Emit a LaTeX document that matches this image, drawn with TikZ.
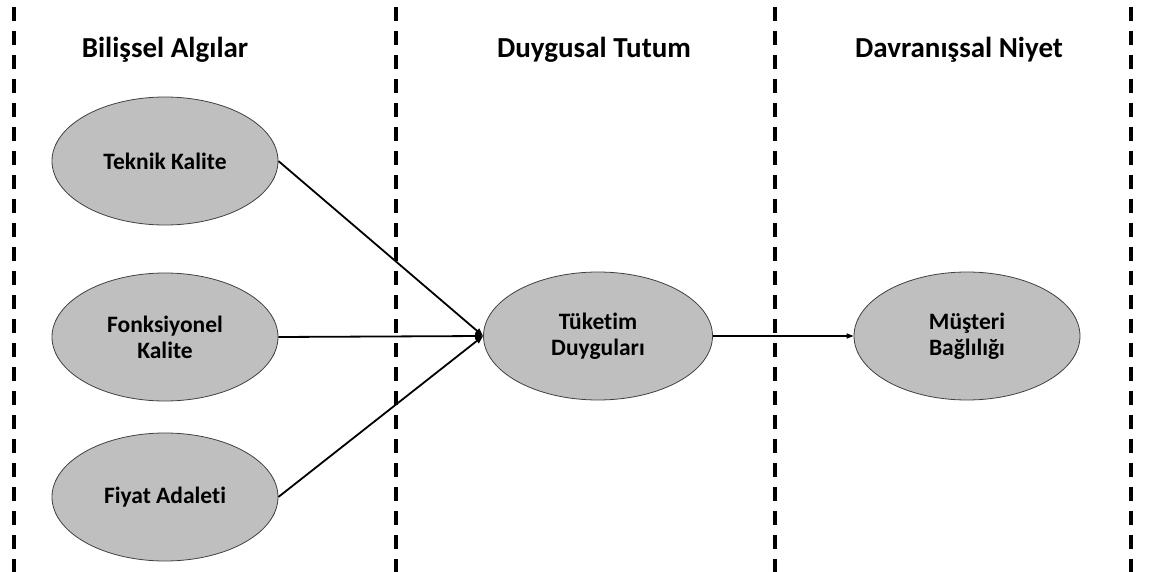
\documentclass[tikz,border=0pt]{standalone}
\usepackage{fontspec}
\setmainfont{Carlito}[RawFeature=-liga]
\usetikzlibrary{shapes.geometric,arrows.meta}
\definecolor{ellfill}{HTML}{BFBFBF}
\definecolor{ellline}{HTML}{404040}
\tikzset{
  concept/.style={ellipse, draw=ellline, line width=0.8pt, fill=ellfill,
    minimum width=226pt, minimum height=128pt, inner sep=0pt,
    align=center, font=\bfseries\fontsize{23.5}{26}\selectfont},
  heading/.style={font=\bfseries\fontsize{29}{32}\selectfont, anchor=center},
  sep/.style={line width=3.3pt, dash pattern=on 14pt off 10pt},
  link/.style={line width=1.8pt, -{Triangle[length=8pt,width=6pt]}},
  link2/.style={line width=1.3pt, -{Triangle[length=7pt,width=5pt]}}
}
\begin{document}
\begin{tikzpicture}[x=1pt,y=-1pt]
\useasboundingbox (0,0) rectangle (1157,572);
% separators
\coordinate (s1t) at (14,7);   \coordinate (s1b) at (14,572);
\coordinate (s2t) at (396,7);  \coordinate (s2b) at (396,572);
\coordinate (s3t) at (775,7);  \coordinate (s3b) at (775,572);
\coordinate (s4t) at (1131,7); \coordinate (s4b) at (1131,572);
\draw[sep] (s1t) -- (s1b);
\draw[sep] (s2t) -- (s2b);
\draw[sep] (s3t) -- (s3b);
\draw[sep] (s4t) -- (s4b);
% headings
\node[heading] (h1) at (165,50) {Bilişsel Algılar};
\node[heading] (h2) at (594,50) {Duygusal Tutum};
\node[heading] (h3) at (959,50) {Davranışsal Niyet};
% nodes
\node[concept] (tk) at (165,161) {Teknik Kalite};
\node[concept] (fk) at (165,337) {Fonksiyonel\\Kalite};
\node[concept] (fa) at (165,497) {Fiyat Adaleti};
\node[concept, minimum width=229pt] (td) at (598,336) {Tüketim\\Duyguları};
\node[concept] (mb) at (967,336) {Müşteri\\Bağlılığı};
% connectors
\draw[link] (tk.east) -- (td.west);
\draw[link] (fk.east) -- (td.west);
\draw[link] (fa.east) -- (td.west);
\draw[link2] (td.east) -- (mb.west);
\end{tikzpicture}
\end{document}
